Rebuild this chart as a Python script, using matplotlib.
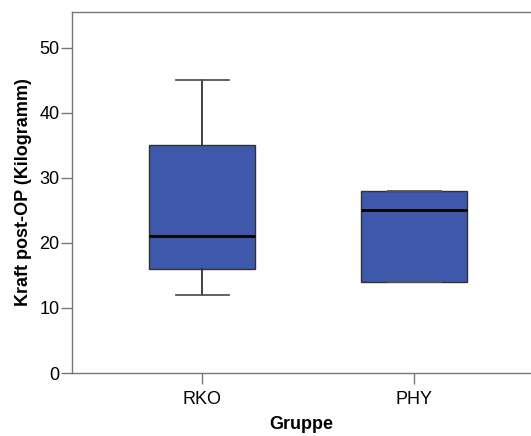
import matplotlib
matplotlib.use('Agg')
import matplotlib.pyplot as plt

plt.rcParams['font.family'] = ['Liberation Sans', 'DejaVu Sans']

gruppen = ['RKO', 'PHY']
whisker_low = [12, 14]
q1 = [16, 14]
median = [21, 25]
q3 = [35, 28]
whisker_high = [45, 28]

stats = []
for i, name in enumerate(gruppen):
    stats.append({'label': name, 'whislo': whisker_low[i], 'q1': q1[i],
                  'med': median[i], 'q3': q3[i], 'whishi': whisker_high[i],
                  'fliers': []})

fig = plt.figure(figsize=(5.31, 4.36), dpi=100)
ax = fig.add_axes([72/531, 1 - 373/436, 1 - 72/531, (373 - 12)/436])

edge = '#333333'
ax.bxp(stats, positions=[1, 2], widths=0.5, patch_artist=True, showfliers=False,
       boxprops=dict(facecolor='#3E58AB', edgecolor=edge, linewidth=1.0),
       whiskerprops=dict(color=edge, linewidth=1.3),
       capprops=dict(color='#555555', linewidth=1.3),
       medianprops=dict(color='black', linewidth=2.0),
       capwidths=0.25)

ax.set_xlim(1 - 130/212, 1 + 329/212)
ax.set_ylim(0, 55.5)
ax.set_yticks([0, 10, 20, 30, 40, 50])
ax.spines['right'].set_visible(False)
for s in ['left', 'bottom', 'top']:
    ax.spines[s].set_color('#777777')
    ax.spines[s].set_linewidth(1.0)
ax.tick_params(axis='both', direction='out', length=8, width=1.0, color='#777777',
               labelsize=13, labelcolor='black')
ax.tick_params(axis='y', pad=1)
ax.tick_params(axis='x', pad=5)
ax.set_xlabel('Gruppe', fontsize=13, fontweight='bold', labelpad=6)
ax.set_ylabel('Kraft post-OP (Kilogramm)', fontsize=13, fontweight='bold', labelpad=5)

fig.savefig('out.png', dpi=100)
